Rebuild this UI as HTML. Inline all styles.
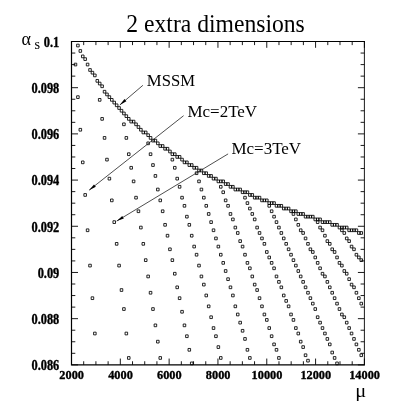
<!DOCTYPE html>
<html><head><meta charset="utf-8"><title>2 extra dimensions</title>
<style>
html,body{margin:0;padding:0;background:#fff;}
body{width:407px;height:407px;overflow:hidden;font-family:"Liberation Serif",serif;}
svg{display:block;filter:grayscale(1);}
text{font-family:"Liberation Serif",serif;fill:#000;}
.b{font-weight:bold;font-size:12.8px;}
.l{font-size:16px;}
</style></head><body>
<svg width="407" height="407" viewBox="0 0 407 407">
<rect width="407" height="407" fill="#fff"/>

<path d="M364.4 41.5H71.5V364.85H364.4" fill="none" stroke="#000" stroke-width="1.2" stroke-linecap="square"/>
<path d="M364.4 41.5V364.85" fill="none" stroke="#000" stroke-width="0.9"/>
<path d="M71.50 364.85v-6.3M71.50 41.5v6.3M83.70 364.85v-3.6M83.70 41.5v3.6M95.91 364.85v-3.6M95.91 41.5v3.6M108.11 364.85v-3.6M108.11 41.5v3.6M120.32 364.85v-6.3M120.32 41.5v6.3M132.52 364.85v-3.6M132.52 41.5v3.6M144.72 364.85v-3.6M144.72 41.5v3.6M156.93 364.85v-3.6M156.93 41.5v3.6M169.13 364.85v-6.3M169.13 41.5v6.3M181.34 364.85v-3.6M181.34 41.5v3.6M193.54 364.85v-3.6M193.54 41.5v3.6M205.75 364.85v-3.6M205.75 41.5v3.6M217.95 364.85v-6.3M217.95 41.5v6.3M230.15 364.85v-3.6M230.15 41.5v3.6M242.36 364.85v-3.6M242.36 41.5v3.6M254.56 364.85v-3.6M254.56 41.5v3.6M266.77 364.85v-6.3M266.77 41.5v6.3M278.97 364.85v-3.6M278.97 41.5v3.6M291.17 364.85v-3.6M291.17 41.5v3.6M303.38 364.85v-3.6M303.38 41.5v3.6M315.58 364.85v-6.3M315.58 41.5v6.3M327.79 364.85v-3.6M327.79 41.5v3.6M339.99 364.85v-3.6M339.99 41.5v3.6M352.20 364.85v-3.6M352.20 41.5v3.6M364.40 364.85v-6.3M364.40 41.5v6.3M71.5 41.50h6.5M364.4 41.50h-6.5M71.5 53.05h3.8M364.4 53.05h-3.8M71.5 64.60h3.8M364.4 64.60h-3.8M71.5 76.14h3.8M364.4 76.14h-3.8M71.5 87.69h6.5M364.4 87.69h-6.5M71.5 99.24h3.8M364.4 99.24h-3.8M71.5 110.79h3.8M364.4 110.79h-3.8M71.5 122.34h3.8M364.4 122.34h-3.8M71.5 133.89h6.5M364.4 133.89h-6.5M71.5 145.43h3.8M364.4 145.43h-3.8M71.5 156.98h3.8M364.4 156.98h-3.8M71.5 168.53h3.8M364.4 168.53h-3.8M71.5 180.08h6.5M364.4 180.08h-6.5M71.5 191.63h3.8M364.4 191.63h-3.8M71.5 203.18h3.8M364.4 203.18h-3.8M71.5 214.72h3.8M364.4 214.72h-3.8M71.5 226.27h6.5M364.4 226.27h-6.5M71.5 237.82h3.8M364.4 237.82h-3.8M71.5 249.37h3.8M364.4 249.37h-3.8M71.5 260.92h3.8M364.4 260.92h-3.8M71.5 272.46h6.5M364.4 272.46h-6.5M71.5 284.01h3.8M364.4 284.01h-3.8M71.5 295.56h3.8M364.4 295.56h-3.8M71.5 307.11h3.8M364.4 307.11h-3.8M71.5 318.66h6.5M364.4 318.66h-6.5M71.5 330.21h3.8M364.4 330.21h-3.8M71.5 341.75h3.8M364.4 341.75h-3.8M71.5 353.30h3.8M364.4 353.30h-3.8M71.5 364.85h6.5M364.4 364.85h-6.5" stroke="#000" stroke-width="0.9" fill="none"/>
<path d="M74.21 63.19h2.55v2.7h-2.55zM76.63 44.18h2.55v2.7h-2.55zM76.63 95.79h2.55v2.7h-2.55zM79.05 49.61h2.55v2.7h-2.55zM79.05 128.40h2.55v2.7h-2.55zM81.47 55.04h2.55v2.7h-2.55zM81.47 161.00h2.55v2.7h-2.55zM83.89 57.76h2.55v2.7h-2.55zM83.89 193.60h2.55v2.7h-2.55zM86.32 63.19h2.55v2.7h-2.55zM86.32 228.92h2.55v2.7h-2.55zM88.74 68.63h2.55v2.7h-2.55zM88.74 264.24h2.55v2.7h-2.55zM91.16 71.34h2.55v2.7h-2.55zM91.16 296.84h2.55v2.7h-2.55zM93.58 74.06h2.55v2.7h-2.55zM93.58 332.16h2.55v2.7h-2.55zM96.00 79.49h2.55v2.7h-2.55zM98.42 82.21h2.55v2.7h-2.55zM98.42 98.51h2.55v2.7h-2.55zM100.85 84.93h2.55v2.7h-2.55zM100.85 117.53h2.55v2.7h-2.55zM103.27 90.36h2.55v2.7h-2.55zM103.27 136.55h2.55v2.7h-2.55zM105.69 93.08h2.55v2.7h-2.55zM105.69 158.28h2.55v2.7h-2.55zM108.11 95.79h2.55v2.7h-2.55zM108.11 177.30h2.55v2.7h-2.55zM110.53 98.51h2.55v2.7h-2.55zM110.53 199.03h2.55v2.7h-2.55zM112.96 101.23h2.55v2.7h-2.55zM112.96 220.77h2.55v2.7h-2.55zM115.38 103.94h2.55v2.7h-2.55zM115.38 242.50h2.55v2.7h-2.55zM117.80 106.66h2.55v2.7h-2.55zM117.80 264.24h2.55v2.7h-2.55zM120.22 109.38h2.55v2.7h-2.55zM120.22 288.69h2.55v2.7h-2.55zM122.64 112.10h2.55v2.7h-2.55zM122.64 122.96h2.55v2.7h-2.55zM122.64 307.70h2.55v2.7h-2.55zM125.06 114.81h2.55v2.7h-2.55zM125.06 136.55h2.55v2.7h-2.55zM125.06 332.16h2.55v2.7h-2.55zM127.49 117.53h2.55v2.7h-2.55zM127.49 152.85h2.55v2.7h-2.55zM127.49 356.61h2.55v2.7h-2.55zM129.91 120.25h2.55v2.7h-2.55zM129.91 166.43h2.55v2.7h-2.55zM132.33 120.25h2.55v2.7h-2.55zM132.33 180.02h2.55v2.7h-2.55zM134.75 122.96h2.55v2.7h-2.55zM134.75 196.32h2.55v2.7h-2.55zM137.17 125.68h2.55v2.7h-2.55zM137.17 209.90h2.55v2.7h-2.55zM139.60 128.40h2.55v2.7h-2.55zM139.60 226.20h2.55v2.7h-2.55zM142.02 131.11h2.55v2.7h-2.55zM142.02 242.50h2.55v2.7h-2.55zM144.44 131.11h2.55v2.7h-2.55zM144.44 258.80h2.55v2.7h-2.55zM146.86 133.83h2.55v2.7h-2.55zM146.86 141.98h2.55v2.7h-2.55zM146.86 275.10h2.55v2.7h-2.55zM149.28 136.55h2.55v2.7h-2.55zM149.28 152.85h2.55v2.7h-2.55zM149.28 291.40h2.55v2.7h-2.55zM151.70 139.26h2.55v2.7h-2.55zM151.70 163.71h2.55v2.7h-2.55zM151.70 307.70h2.55v2.7h-2.55zM154.13 139.26h2.55v2.7h-2.55zM154.13 174.58h2.55v2.7h-2.55zM154.13 324.01h2.55v2.7h-2.55zM156.55 141.98h2.55v2.7h-2.55zM156.55 188.17h2.55v2.7h-2.55zM156.55 340.31h2.55v2.7h-2.55zM158.97 144.70h2.55v2.7h-2.55zM158.97 199.03h2.55v2.7h-2.55zM158.97 356.61h2.55v2.7h-2.55zM161.39 144.70h2.55v2.7h-2.55zM161.39 209.90h2.55v2.7h-2.55zM163.81 147.41h2.55v2.7h-2.55zM163.81 223.48h2.55v2.7h-2.55zM166.24 147.41h2.55v2.7h-2.55zM166.24 234.35h2.55v2.7h-2.55zM168.66 150.13h2.55v2.7h-2.55zM168.66 247.94h2.55v2.7h-2.55zM171.08 152.85h2.55v2.7h-2.55zM171.08 158.28h2.55v2.7h-2.55zM171.08 258.80h2.55v2.7h-2.55zM173.50 152.85h2.55v2.7h-2.55zM173.50 166.43h2.55v2.7h-2.55zM173.50 272.39h2.55v2.7h-2.55zM175.92 155.56h2.55v2.7h-2.55zM175.92 177.30h2.55v2.7h-2.55zM175.92 285.97h2.55v2.7h-2.55zM178.34 155.56h2.55v2.7h-2.55zM178.34 185.45h2.55v2.7h-2.55zM178.34 296.84h2.55v2.7h-2.55zM180.77 158.28h2.55v2.7h-2.55zM180.77 196.32h2.55v2.7h-2.55zM180.77 310.42h2.55v2.7h-2.55zM183.19 161.00h2.55v2.7h-2.55zM183.19 204.47h2.55v2.7h-2.55zM183.19 324.01h2.55v2.7h-2.55zM185.61 161.00h2.55v2.7h-2.55zM185.61 215.33h2.55v2.7h-2.55zM185.61 334.87h2.55v2.7h-2.55zM188.03 163.71h2.55v2.7h-2.55zM188.03 223.48h2.55v2.7h-2.55zM188.03 348.46h2.55v2.7h-2.55zM190.45 163.71h2.55v2.7h-2.55zM190.45 234.35h2.55v2.7h-2.55zM190.45 362.04h2.55v2.7h-2.55zM192.88 166.43h2.55v2.7h-2.55zM192.88 245.22h2.55v2.7h-2.55zM195.30 166.43h2.55v2.7h-2.55zM195.30 171.86h2.55v2.7h-2.55zM195.30 253.37h2.55v2.7h-2.55zM197.72 169.15h2.55v2.7h-2.55zM197.72 180.02h2.55v2.7h-2.55zM197.72 264.24h2.55v2.7h-2.55zM200.14 169.15h2.55v2.7h-2.55zM200.14 188.17h2.55v2.7h-2.55zM200.14 275.10h2.55v2.7h-2.55zM202.56 171.86h2.55v2.7h-2.55zM202.56 196.32h2.55v2.7h-2.55zM202.56 283.25h2.55v2.7h-2.55zM204.98 171.86h2.55v2.7h-2.55zM204.98 204.47h2.55v2.7h-2.55zM204.98 294.12h2.55v2.7h-2.55zM207.41 174.58h2.55v2.7h-2.55zM207.41 212.62h2.55v2.7h-2.55zM207.41 304.99h2.55v2.7h-2.55zM209.83 174.58h2.55v2.7h-2.55zM209.83 220.77h2.55v2.7h-2.55zM209.83 315.86h2.55v2.7h-2.55zM212.25 177.30h2.55v2.7h-2.55zM212.25 228.92h2.55v2.7h-2.55zM212.25 326.72h2.55v2.7h-2.55zM214.67 177.30h2.55v2.7h-2.55zM214.67 237.07h2.55v2.7h-2.55zM214.67 334.87h2.55v2.7h-2.55zM217.09 180.02h2.55v2.7h-2.55zM217.09 245.22h2.55v2.7h-2.55zM217.09 345.74h2.55v2.7h-2.55zM219.51 180.02h2.55v2.7h-2.55zM219.51 185.45h2.55v2.7h-2.55zM219.51 253.37h2.55v2.7h-2.55zM219.51 356.61h2.55v2.7h-2.55zM221.94 180.02h2.55v2.7h-2.55zM221.94 190.88h2.55v2.7h-2.55zM221.94 261.52h2.55v2.7h-2.55zM224.36 182.73h2.55v2.7h-2.55zM224.36 199.03h2.55v2.7h-2.55zM224.36 269.67h2.55v2.7h-2.55zM226.78 182.73h2.55v2.7h-2.55zM226.78 204.47h2.55v2.7h-2.55zM226.78 277.82h2.55v2.7h-2.55zM229.20 185.45h2.55v2.7h-2.55zM229.20 212.62h2.55v2.7h-2.55zM229.20 285.97h2.55v2.7h-2.55zM231.62 185.45h2.55v2.7h-2.55zM231.62 218.05h2.55v2.7h-2.55zM231.62 294.12h2.55v2.7h-2.55zM234.05 188.17h2.55v2.7h-2.55zM234.05 226.20h2.55v2.7h-2.55zM234.05 304.99h2.55v2.7h-2.55zM236.47 188.17h2.55v2.7h-2.55zM236.47 231.63h2.55v2.7h-2.55zM236.47 313.14h2.55v2.7h-2.55zM238.89 188.17h2.55v2.7h-2.55zM238.89 239.78h2.55v2.7h-2.55zM238.89 321.29h2.55v2.7h-2.55zM241.31 190.88h2.55v2.7h-2.55zM241.31 245.22h2.55v2.7h-2.55zM241.31 329.44h2.55v2.7h-2.55zM243.73 190.88h2.55v2.7h-2.55zM243.73 196.32h2.55v2.7h-2.55zM243.73 253.37h2.55v2.7h-2.55zM243.73 337.59h2.55v2.7h-2.55zM246.15 190.88h2.55v2.7h-2.55zM246.15 201.75h2.55v2.7h-2.55zM246.15 261.52h2.55v2.7h-2.55zM246.15 348.46h2.55v2.7h-2.55zM248.58 193.60h2.55v2.7h-2.55zM248.58 207.18h2.55v2.7h-2.55zM248.58 266.95h2.55v2.7h-2.55zM248.58 356.61h2.55v2.7h-2.55zM251.00 193.60h2.55v2.7h-2.55zM251.00 212.62h2.55v2.7h-2.55zM251.00 275.10h2.55v2.7h-2.55zM253.42 196.32h2.55v2.7h-2.55zM253.42 218.05h2.55v2.7h-2.55zM253.42 283.25h2.55v2.7h-2.55zM255.84 196.32h2.55v2.7h-2.55zM255.84 226.20h2.55v2.7h-2.55zM255.84 288.69h2.55v2.7h-2.55zM258.26 196.32h2.55v2.7h-2.55zM258.26 231.63h2.55v2.7h-2.55zM258.26 296.84h2.55v2.7h-2.55zM260.69 199.03h2.55v2.7h-2.55zM260.69 237.07h2.55v2.7h-2.55zM260.69 304.99h2.55v2.7h-2.55zM263.11 199.03h2.55v2.7h-2.55zM263.11 242.50h2.55v2.7h-2.55zM263.11 313.14h2.55v2.7h-2.55zM265.53 199.03h2.55v2.7h-2.55zM265.53 250.65h2.55v2.7h-2.55zM265.53 318.57h2.55v2.7h-2.55zM267.95 201.75h2.55v2.7h-2.55zM267.95 204.47h2.55v2.7h-2.55zM267.95 256.09h2.55v2.7h-2.55zM267.95 326.72h2.55v2.7h-2.55zM270.37 201.75h2.55v2.7h-2.55zM270.37 209.90h2.55v2.7h-2.55zM270.37 261.52h2.55v2.7h-2.55zM270.37 334.87h2.55v2.7h-2.55zM272.79 201.75h2.55v2.7h-2.55zM272.79 215.33h2.55v2.7h-2.55zM272.79 266.95h2.55v2.7h-2.55zM272.79 343.02h2.55v2.7h-2.55zM275.22 204.47h2.55v2.7h-2.55zM275.22 220.77h2.55v2.7h-2.55zM275.22 275.10h2.55v2.7h-2.55zM275.22 348.46h2.55v2.7h-2.55zM277.64 204.47h2.55v2.7h-2.55zM277.64 226.20h2.55v2.7h-2.55zM277.64 280.54h2.55v2.7h-2.55zM277.64 356.61h2.55v2.7h-2.55zM280.06 204.47h2.55v2.7h-2.55zM280.06 231.63h2.55v2.7h-2.55zM280.06 285.97h2.55v2.7h-2.55zM282.48 207.18h2.55v2.7h-2.55zM282.48 237.07h2.55v2.7h-2.55zM282.48 294.12h2.55v2.7h-2.55zM284.90 207.18h2.55v2.7h-2.55zM284.90 242.50h2.55v2.7h-2.55zM284.90 299.55h2.55v2.7h-2.55zM287.33 207.18h2.55v2.7h-2.55zM287.33 247.94h2.55v2.7h-2.55zM287.33 304.99h2.55v2.7h-2.55zM289.75 209.90h2.55v2.7h-2.55zM289.75 253.37h2.55v2.7h-2.55zM289.75 313.14h2.55v2.7h-2.55zM292.17 209.90h2.55v2.7h-2.55zM292.17 212.62h2.55v2.7h-2.55zM292.17 258.80h2.55v2.7h-2.55zM292.17 318.57h2.55v2.7h-2.55zM294.59 209.90h2.55v2.7h-2.55zM294.59 218.05h2.55v2.7h-2.55zM294.59 264.24h2.55v2.7h-2.55zM294.59 326.72h2.55v2.7h-2.55zM297.01 212.62h2.55v2.7h-2.55zM297.01 223.48h2.55v2.7h-2.55zM297.01 269.67h2.55v2.7h-2.55zM297.01 332.16h2.55v2.7h-2.55zM299.43 212.62h2.55v2.7h-2.55zM299.43 228.92h2.55v2.7h-2.55zM299.43 275.10h2.55v2.7h-2.55zM299.43 340.31h2.55v2.7h-2.55zM301.86 212.62h2.55v2.7h-2.55zM301.86 231.63h2.55v2.7h-2.55zM301.86 280.54h2.55v2.7h-2.55zM301.86 345.74h2.55v2.7h-2.55zM304.28 215.33h2.55v2.7h-2.55zM304.28 237.07h2.55v2.7h-2.55zM304.28 285.97h2.55v2.7h-2.55zM304.28 353.89h2.55v2.7h-2.55zM306.70 215.33h2.55v2.7h-2.55zM306.70 242.50h2.55v2.7h-2.55zM306.70 291.40h2.55v2.7h-2.55zM306.70 359.32h2.55v2.7h-2.55zM309.12 215.33h2.55v2.7h-2.55zM309.12 247.94h2.55v2.7h-2.55zM309.12 296.84h2.55v2.7h-2.55zM311.54 215.33h2.55v2.7h-2.55zM311.54 250.65h2.55v2.7h-2.55zM311.54 302.27h2.55v2.7h-2.55zM313.97 218.05h2.55v2.7h-2.55zM313.97 256.09h2.55v2.7h-2.55zM313.97 307.70h2.55v2.7h-2.55zM316.39 218.05h2.55v2.7h-2.55zM316.39 220.77h2.55v2.7h-2.55zM316.39 261.52h2.55v2.7h-2.55zM316.39 315.86h2.55v2.7h-2.55zM318.81 218.05h2.55v2.7h-2.55zM318.81 226.20h2.55v2.7h-2.55zM318.81 266.95h2.55v2.7h-2.55zM318.81 321.29h2.55v2.7h-2.55zM321.23 220.77h2.55v2.7h-2.55zM321.23 228.92h2.55v2.7h-2.55zM321.23 272.39h2.55v2.7h-2.55zM321.23 326.72h2.55v2.7h-2.55zM323.65 220.77h2.55v2.7h-2.55zM323.65 234.35h2.55v2.7h-2.55zM323.65 275.10h2.55v2.7h-2.55zM323.65 332.16h2.55v2.7h-2.55zM326.07 220.77h2.55v2.7h-2.55zM326.07 239.78h2.55v2.7h-2.55zM326.07 280.54h2.55v2.7h-2.55zM326.07 337.59h2.55v2.7h-2.55zM328.50 220.77h2.55v2.7h-2.55zM328.50 242.50h2.55v2.7h-2.55zM328.50 285.97h2.55v2.7h-2.55zM328.50 343.02h2.55v2.7h-2.55zM330.92 223.48h2.55v2.7h-2.55zM330.92 247.94h2.55v2.7h-2.55zM330.92 291.40h2.55v2.7h-2.55zM330.92 351.17h2.55v2.7h-2.55zM333.34 223.48h2.55v2.7h-2.55zM333.34 250.65h2.55v2.7h-2.55zM333.34 296.84h2.55v2.7h-2.55zM333.34 356.61h2.55v2.7h-2.55zM335.76 223.48h2.55v2.7h-2.55zM335.76 256.09h2.55v2.7h-2.55zM335.76 302.27h2.55v2.7h-2.55zM335.76 362.04h2.55v2.7h-2.55zM338.18 226.20h2.55v2.7h-2.55zM338.18 261.52h2.55v2.7h-2.55zM338.18 307.70h2.55v2.7h-2.55zM340.60 226.20h2.55v2.7h-2.55zM340.60 228.92h2.55v2.7h-2.55zM340.60 264.24h2.55v2.7h-2.55zM340.60 313.14h2.55v2.7h-2.55zM343.03 226.20h2.55v2.7h-2.55zM343.03 231.63h2.55v2.7h-2.55zM343.03 269.67h2.55v2.7h-2.55zM343.03 315.86h2.55v2.7h-2.55zM345.45 226.20h2.55v2.7h-2.55zM345.45 237.07h2.55v2.7h-2.55zM345.45 272.39h2.55v2.7h-2.55zM345.45 321.29h2.55v2.7h-2.55zM347.87 228.92h2.55v2.7h-2.55zM347.87 239.78h2.55v2.7h-2.55zM347.87 277.82h2.55v2.7h-2.55zM347.87 326.72h2.55v2.7h-2.55zM350.29 228.92h2.55v2.7h-2.55zM350.29 245.22h2.55v2.7h-2.55zM350.29 283.25h2.55v2.7h-2.55zM350.29 332.16h2.55v2.7h-2.55zM352.71 228.92h2.55v2.7h-2.55zM352.71 247.94h2.55v2.7h-2.55zM352.71 285.97h2.55v2.7h-2.55zM352.71 337.59h2.55v2.7h-2.55zM355.14 228.92h2.55v2.7h-2.55zM355.14 253.37h2.55v2.7h-2.55zM355.14 291.40h2.55v2.7h-2.55zM355.14 343.02h2.55v2.7h-2.55zM357.56 231.63h2.55v2.7h-2.55zM357.56 256.09h2.55v2.7h-2.55zM357.56 296.84h2.55v2.7h-2.55zM357.56 348.46h2.55v2.7h-2.55zM359.98 231.63h2.55v2.7h-2.55zM359.98 258.80h2.55v2.7h-2.55zM359.98 302.27h2.55v2.7h-2.55zM359.98 353.89h2.55v2.7h-2.55z" stroke="#000" stroke-width="0.85" fill="none"/>
<path d="M142.90 85.30L119.80 105.00" stroke="#222" stroke-width="0.8" fill="none"/><path d="M119.80 105.00L124.46 99.06L126.40 101.34z" fill="#000"/>
<path d="M183.60 115.70L89.10 190.20" stroke="#222" stroke-width="0.8" fill="none"/><path d="M89.10 190.20L93.98 184.44L95.84 186.80z" fill="#000"/>
<path d="M228.10 153.90L116.70 221.10" stroke="#222" stroke-width="0.8" fill="none"/><path d="M116.70 221.10L122.26 215.99L123.81 218.56z" fill="#000"/>
<text transform="translate(126.30,31.70) scale(0.965,1)" font-size="24.5" text-anchor="start">2 extra dimensions</text>
<text transform="translate(146.80,85.90) scale(1.03,1)" font-size="16.2" text-anchor="start">MSSM</text>
<text transform="translate(187.40,116.70) scale(1.05,1)" font-size="16.2" text-anchor="start">Mc=2TeV</text>
<text transform="translate(231.40,154.20) scale(1.05,1)" font-size="16.2" text-anchor="start">Mc=3TeV</text>
<text transform="translate(59.30,46.90) scale(0.91,1)" font-size="13.6" text-anchor="end" font-weight="bold" stroke="#000" stroke-width="0.35">0.1</text>
<text transform="translate(59.30,93.09) scale(0.91,1)" font-size="13.6" text-anchor="end" font-weight="bold" stroke="#000" stroke-width="0.35">0.098</text>
<text transform="translate(59.30,139.29) scale(0.91,1)" font-size="13.6" text-anchor="end" font-weight="bold" stroke="#000" stroke-width="0.35">0.096</text>
<text transform="translate(59.30,185.48) scale(0.91,1)" font-size="13.6" text-anchor="end" font-weight="bold" stroke="#000" stroke-width="0.35">0.094</text>
<text transform="translate(59.30,231.67) scale(0.91,1)" font-size="13.6" text-anchor="end" font-weight="bold" stroke="#000" stroke-width="0.35">0.092</text>
<text transform="translate(59.30,277.86) scale(0.91,1)" font-size="13.6" text-anchor="end" font-weight="bold" stroke="#000" stroke-width="0.35">0.09</text>
<text transform="translate(59.30,324.06) scale(0.91,1)" font-size="13.6" text-anchor="end" font-weight="bold" stroke="#000" stroke-width="0.35">0.088</text>
<text transform="translate(59.30,370.25) scale(0.91,1)" font-size="13.6" text-anchor="end" font-weight="bold" stroke="#000" stroke-width="0.35">0.086</text>
<text transform="translate(71.70,378.90) scale(0.95,1)" font-size="13.0" text-anchor="middle" font-weight="bold" stroke="#000" stroke-width="0.35">2000</text>
<text transform="translate(120.52,378.90) scale(0.95,1)" font-size="13.0" text-anchor="middle" font-weight="bold" stroke="#000" stroke-width="0.35">4000</text>
<text transform="translate(169.33,378.90) scale(0.95,1)" font-size="13.0" text-anchor="middle" font-weight="bold" stroke="#000" stroke-width="0.35">6000</text>
<text transform="translate(218.15,378.90) scale(0.95,1)" font-size="13.0" text-anchor="middle" font-weight="bold" stroke="#000" stroke-width="0.35">8000</text>
<text transform="translate(266.97,378.90) scale(0.95,1)" font-size="13.0" text-anchor="middle" font-weight="bold" stroke="#000" stroke-width="0.35">10000</text>
<text transform="translate(315.78,378.90) scale(0.95,1)" font-size="13.0" text-anchor="middle" font-weight="bold" stroke="#000" stroke-width="0.35">12000</text>
<text transform="translate(364.60,378.90) scale(0.95,1)" font-size="13.0" text-anchor="middle" font-weight="bold" stroke="#000" stroke-width="0.35">14000</text>
<text transform="translate(21.60,44.80) scale(1.0,1)" font-size="18" text-anchor="start">α</text>
<text transform="translate(34.60,48.50) scale(1.0,1)" font-size="14.3" text-anchor="start">s</text>
<text transform="translate(355.30,396.60) scale(1.1,1)" font-size="18.5" text-anchor="start">μ</text>
</svg></body></html>
